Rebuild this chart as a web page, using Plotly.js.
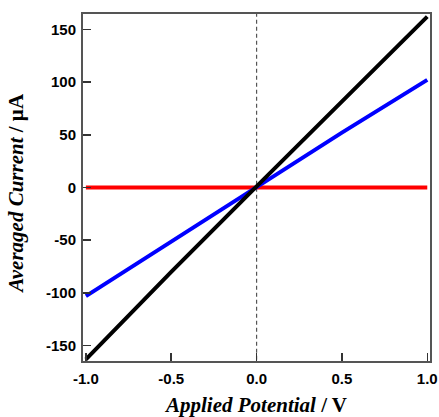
<!DOCTYPE html>
<html>
<head>
<meta charset="utf-8">
<script src="https://cdn.plot.ly/plotly-3.0.1.min.js"></script>
<style>html,body{margin:0;padding:0;background:#fff;}#chart{width:439px;height:417px;}</style>
</head>
<body>
<div id="chart"></div>
<script>
// Applied potential (V)
const potential = [-1.0, -0.5, 0.0, 0.5, 1.0];
// Averaged current (µA) per series
const currentRed = [0, 0, 0, 0, 0];
const currentBlue = [-103, -51, 1, 52, 102];
const currentBlack = [-163, -80, 1, 82, 162];
const zeroLineX = [0, 0];
const zeroLineY = [-170, 170];
const xTicks = [-1.0, -0.5, 0.0, 0.5, 1.0];
const xTickText = ['-1.0', '-0.5', '0.0', '0.5', '1.0'];
const yTicks = [-150, -100, -50, 0, 50, 100, 150];

const traces = [
  {x: zeroLineX, y: zeroLineY, mode: 'lines', line: {color: '#555', width: 1.2, dash: '4px,3px'}, hoverinfo: 'skip'},
  {x: potential, y: currentRed, mode: 'lines', line: {color: '#ff0000', width: 4}},
  {x: potential, y: currentBlue, mode: 'lines', line: {color: '#0000ff', width: 4}},
  {x: potential, y: currentBlack, mode: 'lines', line: {color: '#000000', width: 4}}
];

const tickFont = {family: 'Liberation Sans, Arial, sans-serif', size: 15, color: '#000'};
const xTitleFont = {family: 'Liberation Serif, Times New Roman, serif', size: 21, color: '#000'};
const yTitleFont = {family: 'Liberation Serif, Times New Roman, serif', size: 21, color: '#000'};

const layout = {
  width: 439, height: 417,
  margin: {l: 83, r: 9, t: 14, b: 56},
  showlegend: false,
  paper_bgcolor: '#fff', plot_bgcolor: '#fff',
  xaxis: {
    range: [-1.017, 1.016], tickvals: xTicks, ticktext: xTickText.map(t => '<b>' + t + '</b>'),
    ticks: 'inside', ticklen: 8, tickwidth: 1.5, tickcolor: '#333',
    showline: true, linecolor: '#555', linewidth: 2, mirror: true,
    showgrid: false, zeroline: false, tickfont: tickFont, ticklabelstandoff: 3,
    title: {text: '<b><i>Applied Potential</i> / V</b>', font: xTitleFont, standoff: 11}
  },
  yaxis: {
    range: [-164.5, 164.5], tickvals: yTicks, ticktext: yTicks.map(t => '<b>' + t + '</b>'),
    ticks: 'inside', ticklen: 8, tickwidth: 1.5, tickcolor: '#333',
    showline: true, linecolor: '#555', linewidth: 2, mirror: true,
    showgrid: false, zeroline: false, tickfont: tickFont, ticklabelstandoff: 2,
    title: {text: '<b><i>Averaged Current</i> / µA</b>&nbsp;&nbsp;', font: yTitleFont, standoff: 17}
  }
};

Plotly.newPlot('chart', traces, layout, {staticPlot: true, displayModeBar: false});
</script>
</body>
</html>
